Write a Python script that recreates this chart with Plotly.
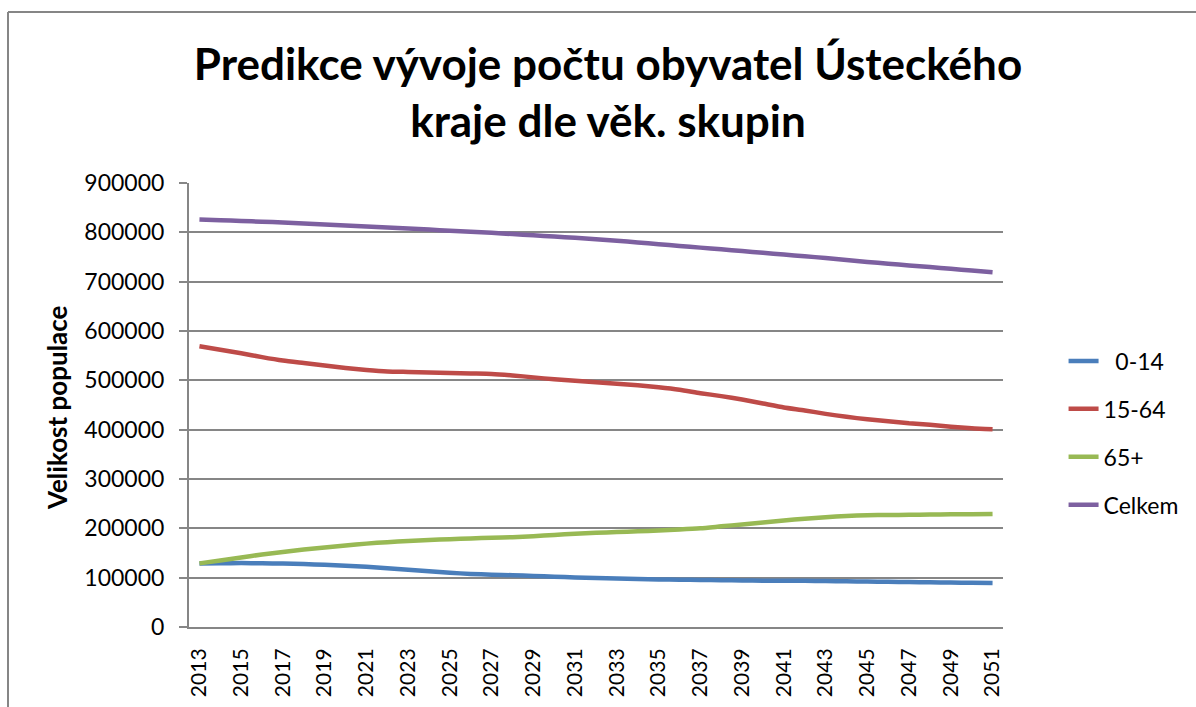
import plotly.graph_objects as go

years = list(range(2013, 2052))

age_0_14 = [128.5, 129, 129.5, 129, 128.5, 127.5, 126, 124, 122, 119, 116, 113, 110, 107.5,
            106, 105, 103.5, 102, 100.5, 99.5, 98.5, 97.5, 96.5, 96, 95.5, 95, 94.5, 94, 94,
            93.5, 93, 92.5, 92, 91.5, 91, 90.5, 90, 89.5, 89]
age_15_64 = [569, 562, 555, 547, 540, 535, 530, 525, 521, 518, 517, 516, 515, 514, 513, 510,
             506, 502, 499, 496, 493, 490, 486, 481, 474, 468, 461, 453, 445, 439, 432, 426,
             421, 417, 413, 410, 406, 403, 401]
age_65_plus = [129, 135, 141, 147, 152, 157, 161, 165, 169, 172, 174.5, 176.5, 178, 179.5, 181,
               182, 184, 186.5, 189, 191, 192.5, 194, 195.5, 197.5, 200, 204, 208, 212, 216,
               219.5, 222.5, 225, 226.5, 227, 227.5, 228, 228.5, 228.5, 229]
celkem = [826, 824.5, 823, 821.5, 820, 818, 816, 814, 812, 810, 808, 805.5, 803, 801, 799,
          796.5, 794, 791.5, 789, 786, 783, 779.5, 776, 772.5, 769, 765.5, 762, 758.5, 755,
          751.5, 748, 744, 740, 736.5, 733, 729.5, 726, 722.5, 719]

series_names = ["\u00a0\u00a00-14", "15-64", "65+", "Celkem"]
series_values = [age_0_14, age_15_64, age_65_plus, celkem]
series_colors = ["#4A7EBB", "#BE4B48", "#98B954", "#7D60A0"]

y_ticks = list(range(0, 900001, 100000))
x_ticks = list(range(2013, 2052, 2))

FONT = "Lato"
L, R, T, B = 189, 193, 183, 80
W = 1196 - L - R
H = 707 - T - B


def px_x(x):
    return (x - L) / W


def px_y(y):
    return (707 - B - y) / H


fig = go.Figure()
for i, (name, vals, col) in enumerate(zip(series_names, series_values, series_colors)):
    fig.add_trace(go.Scatter(
        x=years, y=[v * 1000 for v in vals], name=name, mode="lines",
        line=dict(color=col, width=4.5, shape="spline", smoothing=0.6),
        legendgroup=f"g{i}",
    ))

fig.update_layout(
    width=1196, height=707,
    paper_bgcolor="white", plot_bgcolor="white",
    margin=dict(l=L, r=R, t=T, b=B, autoexpand=False),
    font=dict(family=FONT, size=23, color="black"),
    title=dict(
        text="Predikce vývoje počtu obyvatel Ústeckého<br>kraje dle věk. skupin",
        x=px_x(608), xanchor="center", xref="paper",
        y=1 - 80 / 707, yref="container", yanchor="middle",
        font=dict(family=FONT, size=44, color="black", weight="bold"),
    ),
    legend=dict(
        x=1.0744, xanchor="left", y=px_y(433), yanchor="middle",
        font=dict(family=FONT, size=23, color="black"),
        tracegroupgap=15, bgcolor="rgba(0,0,0,0)",
    ),
    xaxis=dict(
        range=[2012.5, 2051.5], tickmode="array", tickvals=x_ticks,
        ticktext=[str(v) for v in x_ticks], tickangle=-90,
        tickfont=dict(family=FONT, size=21, color="black"),
        showgrid=False, showline=True, linecolor="#868686", linewidth=2,
        ticks="", ticklabelstandoff=11, zeroline=False, automargin=False,
    ),
    yaxis=dict(
        range=[0, 900000], tickmode="array", tickvals=y_ticks,
        ticktext=[str(v) for v in y_ticks],
        tickfont=dict(family=FONT, size=23, color="black"),
        showgrid=True, gridcolor="#868686", gridwidth=1.6,
        showline=True, linecolor="#868686", linewidth=2,
        ticks="outside", ticklen=8, tickcolor="#868686", tickwidth=1.6,
        ticklabelstandoff=10, zeroline=False, automargin=False,
    ),
    annotations=[dict(
        text="<b>Velikost populace</b>", textangle=-90,
        xref="paper", yref="paper", x=px_x(57), y=px_y(408),
        xanchor="center", yanchor="middle", showarrow=False,
        font=dict(family=FONT, size=26, color="black"),
    )],
    shapes=[
        dict(type="line", xref="paper", yref="paper",
             x0=px_x(8), x1=px_x(1200), y0=px_y(12), y1=px_y(12),
             line=dict(color="#868686", width=2)),
        dict(type="line", xref="paper", yref="paper",
             x0=px_x(8), x1=px_x(8), y0=px_y(12), y1=px_y(710),
             line=dict(color="#868686", width=2)),
    ],
    showlegend=True,
)

fig.write_html("out.html", config={"displayModeBar": False},
               post_script="document.body.style.margin='0';")
